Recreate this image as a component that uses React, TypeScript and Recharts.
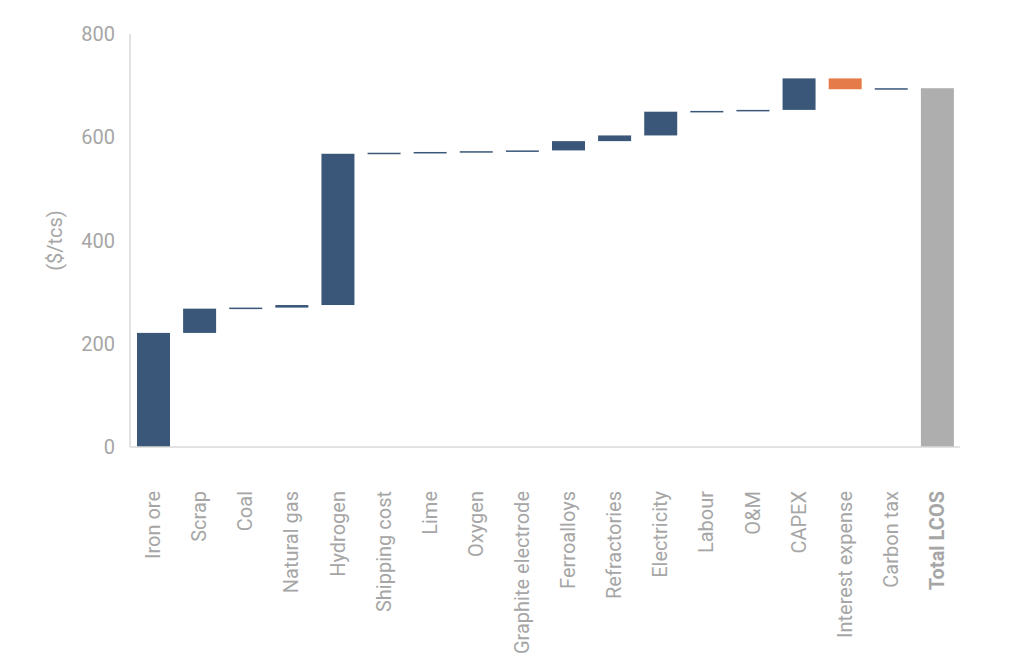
import { BarChart, Bar, XAxis, YAxis } from "recharts";

const categories = [
  "Iron ore",
  "Scrap",
  "Coal",
  "Natural gas",
  "Hydrogen",
  "Shipping cost",
  "Lime",
  "Oxygen",
  "Graphite electrode",
  "Ferroalloys",
  "Refractories",
  "Electricity",
  "Labour",
  "O&M",
  "CAPEX",
  "Interest expense",
  "Carbon tax",
];
const deltas = [221, 47, 2, 5, 293, 2, 1.5, 1.5, 1.5, 18, 11, 46, 1.5, 2, 61, -21, 2];
const totalLabel = "Total LCOS";
const yTicks = [0, 200, 400, 600, 800];

const BLUE = "#3a5779";
const ORANGE = "#e47b48";
const GREY = "#aeaeae";
const TEXT = "#a6a6a6";
const AXIS = "#d9d9d9";

type Row = { name: string; range: [number, number]; kind: "up" | "down" | "total" };

let running = 0;
const data: Row[] = categories.map((name, i) => {
  const start = running;
  running += deltas[i];
  return {
    name,
    range: [Math.min(start, running), Math.max(start, running)] as [number, number],
    kind: deltas[i] >= 0 ? "up" : "down",
  };
});
data.push({ name: totalLabel, range: [0, running], kind: "total" });

function WaterfallBar(props: any) {
  const { x, y, width, height, payload, background } = props;
  const kind = payload.kind;
  const fill = kind === "total" ? GREY : kind === "down" ? ORANGE : BLUE;
  const h = Math.max(height, 1.5);
  const band = background && background.width ? background.width : 48.8;
  const level = kind === "down" ? y + height : y;
  return (
    <g>
      <rect x={x} y={y} width={width} height={h} fill={fill} />
      {kind !== "total" && (
        <line
          x1={x + width}
          x2={x + band}
          y1={level}
          y2={level}
          stroke="#c8c8c8"
          strokeWidth={1.5}
          strokeDasharray="3 3"
        />
      )}
    </g>
  );
}

function CategoryTick(props: any) {
  const { x, y, payload } = props;
  const bold = payload.value === totalLabel;
  return (
    <text
      transform={`translate(${x + 7},${y + 36}) rotate(-90)`}
      textAnchor="end"
      fontSize={20}
      fill={TEXT}
      fontWeight={bold ? 700 : 400}
    >
      {payload.value}
    </text>
  );
}

export default function App() {
  return (
    <div style={{ position: "absolute", left: 0, top: 0, fontFamily: "Roboto, sans-serif" }}>
      <BarChart
        width={1010}
        height={658}
        data={data}
        margin={{ top: 34, right: 50, left: 10, bottom: 11 }}
        barSize={33}
      >
        <XAxis
          dataKey="name"
          interval={0}
          height={200}
          axisLine={{ stroke: AXIS, strokeWidth: 1.5 }}
          tickLine={false}
          tick={<CategoryTick />}
        />
        <YAxis
          width={120}
          domain={[0, 800]}
          ticks={yTicks}
          axisLine={{ stroke: AXIS, strokeWidth: 1.5 }}
          tickLine={false}
          tickSize={6}
          tickMargin={9}
          tick={{ fill: TEXT, fontSize: 20 }}
          label={{
            value: "($/tcs)",
            angle: -90,
            position: "insideLeft",
            offset: 45,
            textAnchor: "middle",
            fill: TEXT,
            fontSize: 20,
          }}
        />
        <Bar dataKey="range" shape={<WaterfallBar />} isAnimationActive={false} />
      </BarChart>
    </div>
  );
}
